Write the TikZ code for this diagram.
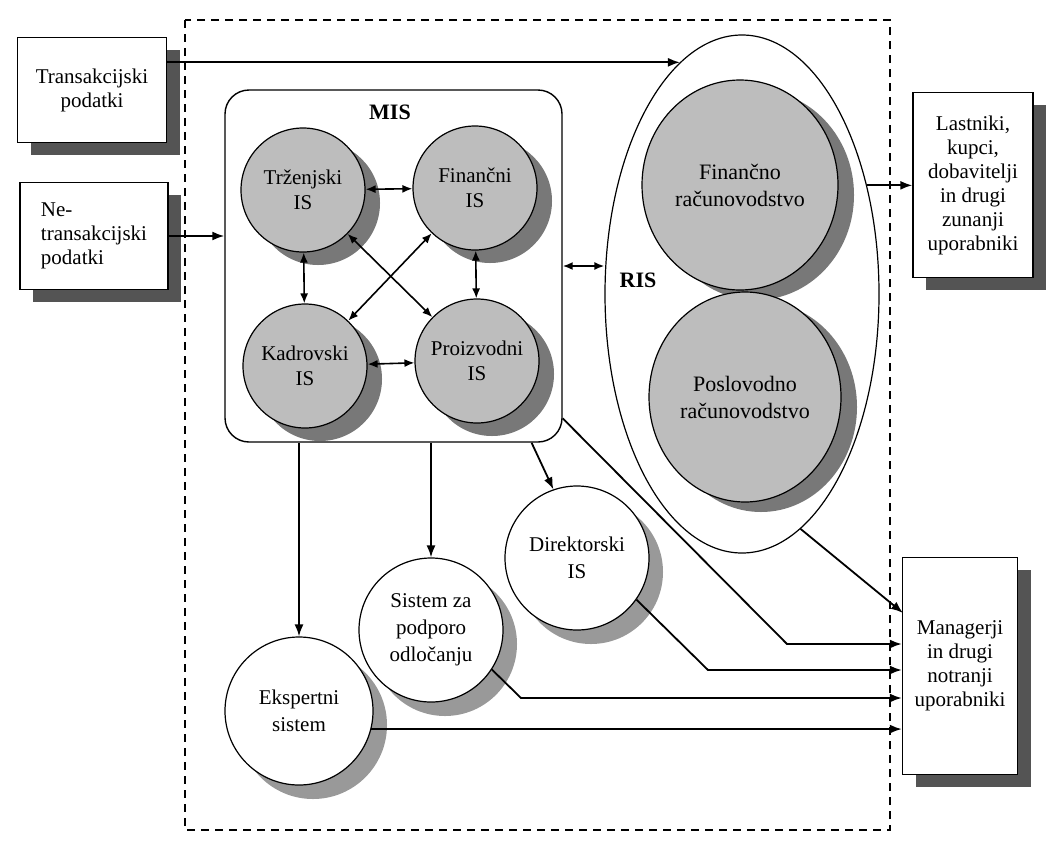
\documentclass[tikz,border=0pt]{standalone}
\usepackage{fontspec}
\setmainfont{Liberation Serif}
\usetikzlibrary{arrows.meta,positioning,calc,shapes.geometric,shadows}

\tikzset{
  boxtxt/.style={font=\fontsize{10.5}{12}\selectfont},
  databox/.style={draw,line width=0.7pt,fill=white,boxtxt,align=center,inner sep=2pt,
    drop shadow={shadow xshift=6.5pt,shadow yshift=-6pt,fill=black!67,opacity=1}},
  iscircle/.style={circle,draw,line width=0.6pt,fill=black!26,align=center,inner sep=0pt,
    font=\fontsize{10.5}{12.5}\selectfont,
    drop shadow={shadow xshift=7.5pt,shadow yshift=-6.5pt,fill=black!53,opacity=1}},
  riscircle/.style={ellipse,draw,line width=0.6pt,fill=black!26,align=center,inner sep=0pt,
    font=\fontsize{11}{13.5}\selectfont,
    drop shadow={shadow xshift=8pt,shadow yshift=-5pt,fill=black!53,opacity=1}},
  subcircle/.style={circle,draw,line width=0.6pt,fill=white,align=center,inner sep=0pt,
    font=\fontsize{10.5}{13.5}\selectfont,
    drop shadow={shadow xshift=7pt,shadow yshift=-7pt,fill=black!40,opacity=1}},
  flow/.style={line width=0.9pt,-{Latex[length=6pt,width=4.5pt]}},
  link/.style={line width=0.8pt,{Latex[length=5pt,width=4pt]}-{Latex[length=5pt,width=4pt]}},
  title/.style={font=\fontsize{11}{13}\selectfont\bfseries}
}

\begin{document}
\begin{tikzpicture}[x=0.5pt,y=-0.5pt]
  \useasboundingbox (0,0) rectangle (1048,841);
  % outer frame
  \draw[line width=0.6pt,dash pattern=on 4pt off 3pt] (185,20) rectangle (890,830);

  % data sources and users
  \node[databox,minimum width=74.5pt,minimum height=52.5pt] (trans) at (92,90) {Transakcijski\\podatki};
  \node[databox,align=left,minimum width=74pt,minimum height=53.5pt] (netrans) at (94,236) {Ne-\\transakcijski\\podatki};
  \node[databox,minimum width=60pt,minimum height=92.5pt] (lst) at (973,185) {Lastniki,\\kupci,\\dobavitelji\\in drugi\\zunanji\\uporabniki};
  \node[databox,minimum width=57.5pt,minimum height=108.5pt] (mgr) at (960,666) {Managerji\\in drugi\\notranji\\uporabniki};

  % MIS
  \node[draw,line width=0.7pt,rounded corners=12pt,minimum width=168.5pt,minimum height=176pt] (mis) at (393.5,266) {};
  \node[title] (mislbl) at (390,112) {MIS};
  \node[iscircle,minimum size=62pt] (trz) at (303,190) {Trženjski\\IS};
  \node[iscircle,minimum size=62pt] (fin) at (475,188) {Finančni\\IS};
  \node[iscircle,minimum size=62pt] (kad) at (305,366) {Kadrovski\\IS};
  \node[iscircle,minimum size=62pt] (pro) at (477,361) {Proizvodni\\IS};

  % RIS
  \node[ellipse,draw,line width=0.6pt,fill=white,inner sep=0pt,minimum width=137pt,minimum height=259pt] (ris) at (742,294) {};
  \node[title] (rislbl) at (638,280) {RIS};
  \node[riscircle,minimum width=98pt,minimum height=105pt] (finr) at (740,185) {Finančno\\računovodstvo};
  \node[riscircle,minimum width=96pt,minimum height=105pt] (posr) at (745,397) {Poslovodno\\računovodstvo};

  % other systems
  \node[subcircle,minimum size=72pt] (dir) at (577,558) {Direktorski\\IS};
  \node[subcircle,minimum size=72pt] (dss) at (431,630) {Sistem za\\podporo\\odločanju};
  \node[subcircle,minimum size=74pt] (eks) at (299,711) {Ekspertni\\sistem};

  % links inside MIS
  \draw[link] (trz) -- (fin);
  \draw[link] (trz) -- (kad);
  \draw[link] (fin) -- (pro);
  \draw[link] (kad) -- (pro);
  \draw[link] (trz) -- (pro);
  \draw[link] (fin) -- (kad);

  % inputs and outputs
  \draw[flow] (trans.east |- ris.105) -- (ris.105);
  \draw[flow] (netrans.east) -- (netrans.east -| mis.west);
  \draw[link,line width=0.9pt] (mis.east) -- (mis.east -| ris.west);
  \draw[flow] (ris.41) -- (ris.41 -| lst.west);

  \draw[flow] (mis.south -| eks.north) -- (eks.north);
  \draw[flow] (mis.south -| dss.north) -- (dss.north);
  \draw[flow] (mis.-52) -- (dir.109);

  \coordinate (e1) at (903,613);
  \coordinate (b2) at (787,644);
  \coordinate (b3) at (708,670);
  \coordinate (b4) at (521,698);
  \draw[flow] (ris.-76) -- (e1);
  \draw[flow] (mis.-42) -- (b2) -- (b2 -| mgr.west);
  \draw[flow] (dir.-35) -- (b3) -- (b3 -| mgr.west);
  \draw[flow] (dss.-33) -- (b4) -- (b4 -| mgr.west);
  \draw[flow] (eks.-14) -- (eks.-14 -| mgr.west);
\end{tikzpicture}
\end{document}
